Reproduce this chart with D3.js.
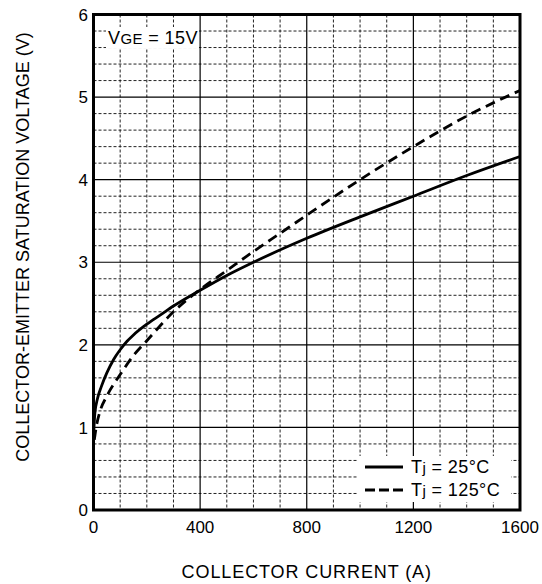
<!DOCTYPE html>
<html>
<head>
  <meta charset="utf-8">
  <title>Collector-emitter saturation voltage</title>
  <script src="https://cdn.jsdelivr.net/npm/d3@7/dist/d3.min.js"></script>
  <style>
    body { margin: 0; background: #fff; }
    svg { display: block; font-family: 'Liberation Sans', Arial, Helvetica, sans-serif; }
    .grid-minor { stroke: #222; stroke-width: 1; stroke-dasharray: 3,2; }
    .grid-major { stroke: #000; stroke-width: 1.2; }
    .tick-label { font-size: 17px; fill: #000; }
    .title { font-size: 18px; fill: #000; }
  </style>
</head>
<body>
<script>

// collector current (A) vs V_CE(sat) (V)
var current25 = [0, 5, 15, 30, 50, 75, 100, 125, 150, 200, 250, 300, 400, 500, 600, 800, 1000, 1200, 1400, 1600];
var vsat25    = [0.88, 1.17, 1.35, 1.5, 1.66, 1.82, 1.94, 2.04, 2.12, 2.25, 2.36, 2.47, 2.66, 2.84, 3.0, 3.29, 3.55, 3.8, 4.05, 4.28];

var current125 = [3, 10, 25, 50, 100, 150, 200, 300, 400, 500, 600, 700, 800, 1000, 1200, 1400, 1600];
var vsat125    = [0.85, 1.0, 1.2, 1.38, 1.64, 1.87, 2.05, 2.4, 2.67, 2.9, 3.13, 3.35, 3.57, 4.0, 4.4, 4.77, 5.08];

var xTicks = [0, 400, 800, 1200, 1600];
var yTicks = [0, 1, 2, 3, 4, 5, 6];
var legendLabels = ['25°C', '125°C'];

var width = 542, height = 584,
    m = { left: 93.5, right: 520, top: 14.5, bottom: 510 };

var x = d3.scaleLinear().domain([0, 1600]).range([m.left, m.right]);
var y = d3.scaleLinear().domain([0, 6]).range([m.bottom, m.top]);

var svg = d3.select('body').append('svg')
    .attr('width', width)
    .attr('height', height);

// minor grid, every 100 A and 0.2 V
var minorX = d3.range(100, 1600, 100).filter(function (d) { return d % 400 !== 0; });
var minorY = d3.range(1, 30).map(function (i) { return i * 0.2; })
    .filter(function (d) { return Math.abs(d - Math.round(d)) > 1e-6; });

svg.append('g').selectAll('line')
    .data(minorX)
  .enter().append('line')
    .attr('class', 'grid-minor')
    .attr('x1', function (d) { return x(d); })
    .attr('x2', function (d) { return x(d); })
    .attr('y1', m.top)
    .attr('y2', m.bottom);

svg.append('g').selectAll('line')
    .data(minorY)
  .enter().append('line')
    .attr('class', 'grid-minor')
    .attr('x1', m.left)
    .attr('x2', m.right)
    .attr('y1', function (d) { return y(d); })
    .attr('y2', function (d) { return y(d); });

// major grid
svg.append('g').selectAll('line')
    .data(xTicks.slice(1, -1))
  .enter().append('line')
    .attr('class', 'grid-major')
    .attr('x1', function (d) { return x(d); })
    .attr('x2', function (d) { return x(d); })
    .attr('y1', m.top)
    .attr('y2', m.bottom);

svg.append('g').selectAll('line')
    .data(yTicks.slice(1, -1))
  .enter().append('line')
    .attr('class', 'grid-major')
    .attr('x1', m.left)
    .attr('x2', m.right)
    .attr('y1', function (d) { return y(d); })
    .attr('y2', function (d) { return y(d); });

// curves
var line = d3.line()
    .x(function (d) { return x(d[0]); })
    .y(function (d) { return y(d[1]); })
    .curve(d3.curveMonotoneX);

svg.append('path')
    .datum(d3.zip(current25, vsat25))
    .attr('d', line)
    .style('fill', 'none')
    .style('stroke', '#000')
    .style('stroke-width', 2.8);

svg.append('path')
    .datum(d3.zip(current125, vsat125))
    .attr('d', line)
    .style('fill', 'none')
    .style('stroke', '#000')
    .style('stroke-width', 2.8)
    .style('stroke-dasharray', '10,6');

// frame
svg.append('rect')
    .attr('x', m.left)
    .attr('y', m.top)
    .attr('width', m.right - m.left)
    .attr('height', m.bottom - m.top)
    .style('fill', 'none')
    .style('stroke', '#000')
    .style('stroke-width', 3);

// V_GE label
svg.append('rect')
    .attr('x', 106).attr('y', 27)
    .attr('width', 93).attr('height', 21)
    .style('fill', '#fff');

var vge = svg.append('text')
    .attr('class', 'title')
    .attr('x', 108)
    .attr('y', 44)
    .style('letter-spacing', '0.4px');
vge.append('tspan').text('V');
vge.append('tspan').style('font-size', '15px').text('GE');
vge.append('tspan').text(' = 15V');

// legend
svg.append('rect')
    .attr('x', 357).attr('y', 456)
    .attr('width', 154).attr('height', 46)
    .style('fill', '#fff');

var legend = svg.append('g').selectAll('g')
    .data(legendLabels)
  .enter().append('g')
    .attr('transform', function (d, i) { return 'translate(0,' + (467 + i * 23) + ')'; });

legend.append('line')
    .attr('x1', 365).attr('x2', 403)
    .style('stroke', '#000')
    .style('stroke-width', 2.8)
    .style('stroke-dasharray', function (d, i) { return i ? '10,4' : null; });

var lt = legend.append('text')
    .attr('class', 'title')
    .attr('x', 411)
    .attr('y', 6)
    .style('letter-spacing', '0.4px');
lt.append('tspan').text('T');
lt.append('tspan').style('font-size', '15px').text('j');
lt.append('tspan').text(function (d) { return ' = ' + d; });

// tick labels
svg.append('g').selectAll('text')
    .data(xTicks)
  .enter().append('text')
    .attr('class', 'tick-label')
    .attr('x', function (d) { return x(d); })
    .attr('y', 533)
    .attr('text-anchor', 'middle')
    .text(function (d) { return d; });

svg.append('g').selectAll('text')
    .data(yTicks)
  .enter().append('text')
    .attr('class', 'tick-label')
    .attr('x', 88)
    .attr('y', function (d) { return y(d); })
    .attr('dy', '0.36em')
    .attr('text-anchor', 'end')
    .text(function (d) { return d; });

// axis titles
svg.append('text')
    .attr('class', 'title')
    .attr('x', (m.left + m.right) / 2)
    .attr('y', 578)
    .attr('text-anchor', 'middle')
    .style('letter-spacing', '0.9px')
    .text('COLLECTOR CURRENT (A)');

svg.append('text')
    .attr('class', 'title')
    .attr('transform', 'translate(29,' + 247 + ') rotate(-90)')
    .attr('text-anchor', 'middle')
    .text('COLLECTOR-EMITTER SATURATION VOLTAGE (V)');

</script>
</body>
</html>
